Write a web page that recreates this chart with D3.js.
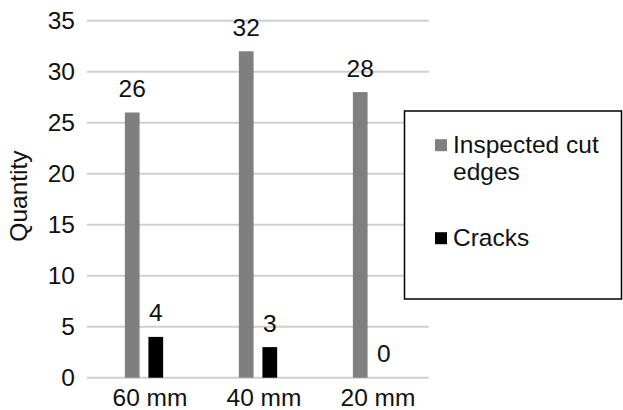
<!DOCTYPE html>
<html>
<head>
<meta charset="utf-8">
<script src="https://cdn.jsdelivr.net/npm/d3@7/dist/d3.min.js"></script>
<style>
  html, body { margin: 0; padding: 0; background: #fff; }
  svg { display: block; font-family: "Liberation Sans", Arial, sans-serif; }
</style>
</head>
<body>
<svg id="chart" width="623" height="410"></svg>
<script>
// Chart data
const categories = ["60 mm", "40 mm", "20 mm"];
const seriesNames = ["Inspected cut edges", "Cracks"];
const inspected = [26, 32, 28];
const cracks = [4, 3, 0];
const yTicks = [0, 5, 10, 15, 20, 25, 30, 35];
const seriesColors = ["#7f7f7f", "#000000"];

const FONT = 24.5;
const svg = d3.select("#chart");
const plot = { left: 87, right: 429, top: 20.7, bottom: 377.7 };

const x = d3.scaleBand().domain(categories).range([plot.left, plot.right]).padding(0);
const groupWidth = 38.3;
const xs = d3.scaleBand().domain(seriesNames).range([0, groupWidth]).paddingInner(0.375).paddingOuter(0);
const y = d3.scaleLinear().domain([0, 35]).range([plot.bottom, plot.top]);

// Horizontal gridlines (the 0 line doubles as the baseline)
svg.append("g")
  .selectAll("line")
  .data(yTicks)
  .join("line")
  .attr("x1", plot.left).attr("x2", plot.right)
  .attr("y1", d => y(d)).attr("y2", d => y(d))
  .attr("stroke", "#d0d0d0").attr("stroke-width", 2);

// Y tick labels
const yAxis = d3.axisLeft(y).tickValues(yTicks).tickSize(0).tickPadding(0);
const gy = svg.append("g").attr("transform", `translate(${plot.left - 12},0)`).call(yAxis);
gy.select(".domain").remove();
gy.selectAll("text").attr("font-size", FONT).attr("fill", "#111")
  .attr("font-family", "Liberation Sans, Arial, sans-serif");

// X category labels
const xAxis = d3.axisBottom(x).tickSize(0).tickPadding(0);
const gx = svg.append("g").attr("transform", `translate(6,${plot.bottom})`).call(xAxis);
gx.select(".domain").remove();
gx.selectAll("text").attr("font-size", FONT).attr("fill", "#111")
  .attr("dy", null).attr("y", 28)
  .attr("font-family", "Liberation Sans, Arial, sans-serif");

// Y axis title
svg.append("text")
  .attr("transform", "translate(27,196) rotate(-90)")
  .attr("text-anchor", "middle")
  .attr("font-size", FONT).attr("fill", "#111")
  .text("Quantity");

// Bars
const rows = categories.map((c, i) => ({ cat: c, vals: [inspected[i], cracks[i]] }));
const groups = svg.append("g").selectAll("g")
  .data(rows)
  .join("g")
  .attr("transform", d => `translate(${x(d.cat) + x.bandwidth() / 2 - groupWidth / 2},0)`);

groups.selectAll("rect")
  .data(d => d.vals.map((v, j) => ({ name: seriesNames[j], v, j })))
  .join("rect")
  .attr("x", d => xs(d.name))
  .attr("width", xs.bandwidth())
  .attr("y", d => y(d.v))
  .attr("height", d => y(0) - y(d.v))
  .attr("fill", d => seriesColors[d.j]);

// Value labels above bars
groups.selectAll("text")
  .data(d => d.vals.map((v, j) => ({ name: seriesNames[j], v, j })))
  .join("text")
  .attr("x", d => xs(d.name) + xs.bandwidth() / 2)
  .attr("y", d => y(d.v) - 15.5)
  .attr("text-anchor", "middle")
  .attr("font-size", FONT).attr("fill", "#111")
  .text(d => d.v);

// Legend
const legend = svg.append("g");
legend.append("rect")
  .attr("x", 404.5).attr("y", 111).attr("width", 217).attr("height", 188)
  .attr("fill", "#fff").attr("stroke", "#000").attr("stroke-width", 1.5);

const legendItems = [
  { lines: ["Inspected cut", "edges"], color: seriesColors[0], baseline: 152.7 },
  { lines: ["Cracks"], color: seriesColors[1], baseline: 245.7 }
];
legendItems.forEach(item => {
  legend.append("rect")
    .attr("x", 435).attr("y", item.baseline - 13.5)
    .attr("width", 12).attr("height", 12)
    .attr("fill", item.color);
  const t = legend.append("text")
    .attr("x", 453).attr("y", item.baseline)
    .attr("font-size", FONT).attr("fill", "#111");
  item.lines.forEach((ln, k) => {
    t.append("tspan").attr("x", 453).attr("dy", k === 0 ? 0 : 27.3).text(ln);
  });
});
</script>
</body>
</html>
